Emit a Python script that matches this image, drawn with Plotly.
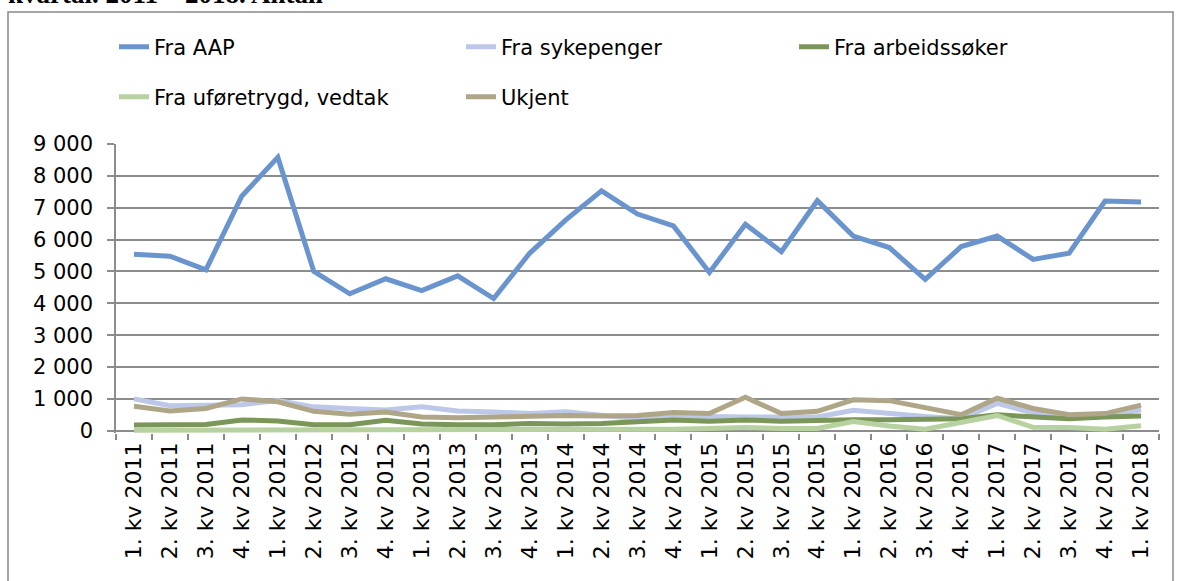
import plotly.graph_objects as go

categories = ["1. kv 2011", "2. kv 2011", "3. kv 2011", "4. kv 2011",
              "1. kv 2012", "2. kv 2012", "3. kv 2012", "4. kv 2012",
              "1. kv 2013", "2. kv 2013", "3. kv 2013", "4. kv 2013",
              "1. kv 2014", "2. kv 2014", "3. kv 2014", "4. kv 2014",
              "1. kv 2015", "2. kv 2015", "3. kv 2015", "4. kv 2015",
              "1. kv 2016", "2. kv 2016", "3. kv 2016", "4. kv 2016",
              "1. kv 2017", "2. kv 2017", "3. kv 2017", "4. kv 2017",
              "1. kv 2018"]

fra_aap = [5540, 5480, 5050, 7370, 8580, 5000, 4300, 4770, 4400, 4860, 4150, 5570,
           6610, 7530, 6800, 6430, 4970, 6480, 5620, 7220, 6110, 5750, 4750, 5780,
           6110, 5380, 5570, 7210, 7180]
fra_sykepenger = [1000, 785, 800, 820, 950, 750, 700, 650, 750, 620, 590, 540,
                  600, 500, 380, 420, 450, 430, 420, 430, 645, 540, 450, 380,
                  860, 560, 430, 460, 660]
fra_arbeidssoker = [180, 180, 200, 340, 310, 190, 190, 330, 210, 190, 190, 230,
                    210, 230, 270, 340, 300, 340, 300, 340, 345, 345, 345, 375,
                    500, 430, 375, 430, 460]
fra_uforetrygd = [20, 20, 20, 30, 30, 30, 30, 30, 40, 40, 40, 40,
                  50, 50, 50, 50, 75, 100, 75, 75, 290, 150, 50, 250,
                  480, 110, 100, 50, 160]
ukjent = [770, 620, 700, 1000, 910, 610, 520, 590, 430, 410, 430, 460,
          480, 460, 480, 570, 540, 1055, 540, 610, 970, 945, 720, 505,
          1020, 700, 505, 540, 805]

y_ticks = [0, 1000, 2000, 3000, 4000, 5000, 6000, 7000, 8000, 9000]
y_ticktext = ["0", "1 000", "2 000", "3 000", "4 000", "5 000", "6 000", "7 000", "8 000", "9 000"]

series = [
    ("Fra AAP", fra_aap, "#6A94CE", "legend"),
    ("Fra sykepenger", fra_sykepenger, "#BDC8E9", "legend2"),
    ("Fra arbeidssøker", fra_arbeidssoker, "#7A9658", "legend3"),
    ("Fra uføretrygd, vedtak", fra_uforetrygd, "#B8D1A0", "legend4"),
    ("Ukjent", ukjent, "#AFA587", "legend5"),
]

FONT = "DejaVu Sans, Verdana, sans-serif"
FS = 21
W, H = 1185, 581
L, R, T, B = 116, 26, 144, 148
PW = W - L - R
PH = H - T - B


def px_x(x):
    return (x - L) / PW


def px_y(y):
    return (H - B - y) / PH


fig = go.Figure()
for name, vals, color, leg in series:
    fig.add_trace(go.Scatter(
        x=categories, y=vals, name=name, mode="lines",
        line=dict(color=color, width=5),
        legend=leg, hoverinfo="x+y+name",
    ))

leg_common = dict(orientation="h", xanchor="left", yanchor="middle",
                  font=dict(family=FONT, size=FS, color="black"),
                  bgcolor="rgba(0,0,0,0)", borderwidth=0,
                  itemwidth=30, xref="paper", yref="paper")
row1 = px_y(47)
row2 = px_y(97)
fig.update_layout(
    width=W, height=H,
    margin=dict(l=L, r=R, t=T, b=B, autoexpand=False),
    paper_bgcolor="white", plot_bgcolor="white",
    font=dict(family=FONT, size=FS, color="black"),
    showlegend=True,
    legend=dict(x=px_x(114), y=row1, **leg_common),
    legend2=dict(x=px_x(461), y=row1, **leg_common),
    legend3=dict(x=px_x(794), y=row1, **leg_common),
    legend4=dict(x=px_x(114), y=row2, **leg_common),
    legend5=dict(x=px_x(461), y=row2, **leg_common),
    xaxis=dict(
        type="category", range=[-0.5, len(categories) - 0.5],
        showgrid=False, zeroline=False, showline=False,
        ticks="outside", tickson="boundaries", ticklen=6,
        tickcolor="#898989", tickwidth=1.5,
        tickangle=-90, tickfont=dict(family=FONT, size=22, color="black"),
        ticklabelstandoff=4,
    ),
    yaxis=dict(
        range=[-70, 9000], tickvals=y_ticks, ticktext=y_ticktext,
        showgrid=True, gridcolor="#8C8C8C", gridwidth=1.5,
        zeroline=True, zerolinecolor="#8C8C8C", zerolinewidth=1.5,
        showline=True, linecolor="#8C8C8C", linewidth=1.5,
        ticks="outside", ticklen=7, tickcolor="#8C8C8C", tickwidth=1.5,
        tickfont=dict(family=FONT, size=FS, color="black"),
        ticklabelstandoff=10,
    ),
)

fig.add_shape(type="rect", xref="paper", yref="paper",
              x0=px_x(8), x1=px_x(1173), y0=px_y(600), y1=px_y(12),
              line=dict(color="#898989", width=1.5), fillcolor="rgba(0,0,0,0)",
              layer="below")

fig.add_annotation(text="<b>kvartal. 2011 – 2018. Antall</b>", xref="paper", yref="paper",
                   x=px_x(6), y=px_y(-6), xanchor="left", yanchor="middle",
                   showarrow=False,
                   font=dict(family="Liberation Serif, Times New Roman, serif", size=27, color="black"))

fig.write_html("out.html", config={"displayModeBar": False},
               post_script="document.body.style.margin='0';document.body.style.overflow='hidden';")
